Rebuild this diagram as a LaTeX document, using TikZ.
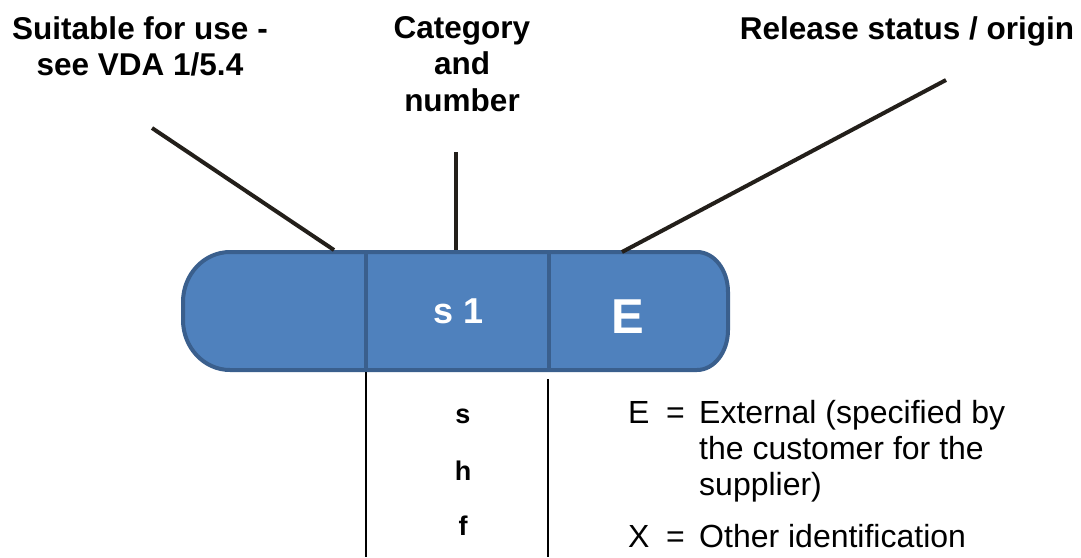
\documentclass[tikz,border=0pt]{standalone}
\usepackage{fontspec}
\setmainfont{Liberation Sans}
\definecolor{capfill}{HTML}{4F81BD}
\definecolor{capborder}{HTML}{3A5F8D}
\definecolor{leader}{RGB}{35,31,26}
\begin{document}
\begin{tikzpicture}[x=1pt,y=-1pt,
  toplabel/.style={font=\fontsize{31.5}{36.5}\selectfont\bfseries, align=center, inner sep=0pt},
  leaderline/.style={draw=leader, line width=4pt},
  capsule/.style={fill=capfill, draw=capborder, line width=4pt, line join=round},
  divider/.style={draw=capborder, line width=3.5pt},
  tableline/.style={draw=black, line width=1.8pt},
  captext/.style={text=white, font=\bfseries, inner sep=0pt, anchor=base},
  catletter/.style={font=\fontsize{27}{32}\selectfont\bfseries, inner sep=0pt, anchor=base},
  legend/.style={font=\fontsize{32}{37}\selectfont, inner sep=0pt, anchor=base west}]
\useasboundingbox (0,0) rectangle (1081,557);

% capsule body
\path[capsule] (230,252) -- (697,252)
  .. controls (714.1,252) and (728,269.9) .. (728,292)
  -- (728,330)
  .. controls (728,352.1) and (714.1,370) .. (697,370)
  -- (230,370)
  .. controls (204,370) and (183,347.6) .. (183,320)
  -- (183,302)
  .. controls (183,274.4) and (204,252) .. (230,252) -- cycle;
\coordinate (d1t) at (366,252);
\coordinate (d1b) at (366,370);
\coordinate (d2t) at (549,252);
\coordinate (d2b) at (549,370);
\draw[divider] (d1t) -- (d1b);
\draw[divider] (d2t) -- (d2b);

% capsule texts
\node[captext, font=\fontsize{36}{40}\selectfont\bfseries] (cat) at (459,323) {s 1};
\node[captext, font=\fontsize{49}{54}\selectfont\bfseries] (rel) at (628,333) {E};

% top labels
\node[toplabel, anchor=north] (suit) at (140,16) {Suitable for use -\\see VDA 1/5.4};
\node[toplabel, anchor=north] (catlab) at (462,16) {Category\\and\\number};
\node[toplabel, anchor=base, inner sep=0pt] (rellab) at (907,39) {Release status / origin};

% leader lines
\coordinate (l1a) at (152,128);
\coordinate (l1b) at (334,250);
\coordinate (l2a) at (456,152);
\coordinate (l2b) at (456,250);
\coordinate (l3a) at (946,80);
\coordinate (l3b) at (622,252);
\draw[leaderline] (l1a) -- (l1b);
\draw[leaderline] (l2a) -- (l2b);
\draw[leaderline] (l3a) -- (l3b);

% table lines below
\coordinate (t1a) at (366,372);
\coordinate (t1b) at (366,557);
\coordinate (t2a) at (548,379);
\coordinate (t2b) at (548,557);
\draw[tableline] (t1a) -- (t1b);
\draw[tableline] (t2a) -- (t2b);

% category letters
\node[catletter] (ls) at (463,423) {s};
\node[catletter] (lh) at (463,480) {h};
\node[catletter] (lf) at (463,535) {f};

% legend
\node[legend] (eE) at (628,423) {E};
\node[legend] (eq1) at (666,423) {=};
\node[legend] (tx1) at (699,423) {External (specified by};
\node[legend] (tx2) at (699,459) {the customer for the};
\node[legend] (tx3) at (699,495) {supplier)};
\node[legend] (eX) at (628,547) {X};
\node[legend] (eq2) at (666,547) {=};
\node[legend] (tx4) at (699,547) {Other identification};
\end{tikzpicture}
\end{document}
